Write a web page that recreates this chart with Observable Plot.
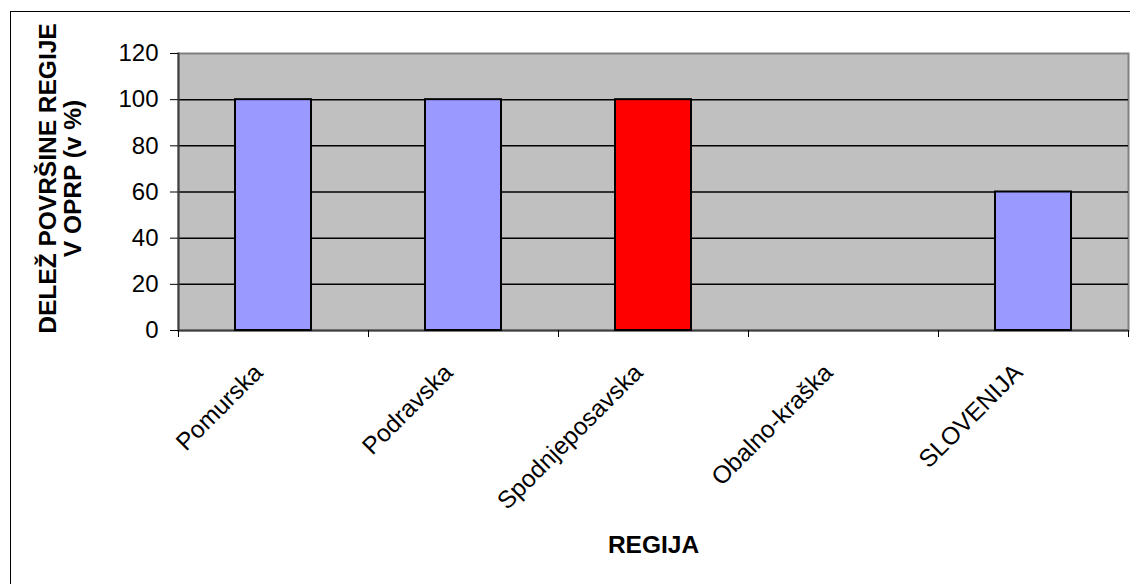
<!DOCTYPE html>
<html><head><meta charset="utf-8">
<script src="https://cdn.jsdelivr.net/npm/d3@7"></script>
<script src="https://cdn.jsdelivr.net/npm/@observablehq/plot@0.6"></script>
<style>
body{margin:0;background:#fff;overflow:hidden;}
#wrap{position:relative;width:1130px;height:584px;overflow:hidden;background:#fff}
#border{position:absolute;left:10px;top:11px;width:1200px;height:700px;border:1.5px solid #000;box-sizing:border-box}
#chart{position:absolute;left:0;top:0}
</style></head><body><div id="wrap"><div id="border"></div><div id="chart"></div></div>
<script>
const regions = ["Pomurska","Podravska","Spodnjeposavska","Obalno-kraška","SLOVENIJA"];
const shares = [100,100,100,0,60];
const barColors = ["#9999FF","#9999FF","#FF0000","#9999FF","#9999FF"];
const yTicks = [0,20,40,60,80,100,120];
const gridTicks = [20,40,60,80,100];
const yLabel = "DELEŽ POVRŠINE REGIJE\nV OPRP (v %)";
const xLabel = "REGIJA";
const data = regions.map((r,i)=>({region:r, share:shares[i], color:barColors[i]}));

const W = 1130, H = 584, mL = 178, mR = 2, mT = 53, mB = 254;
const halfStep = (W - mL - mR) / regions.length / 2;

const chart = Plot.plot({
  width:W, height:H,
  marginLeft:mL, marginRight:mR, marginTop:mT, marginBottom:mB,
  style:{fontFamily:"'Liberation Sans', Arial, sans-serif", fontSize:"24px", color:"#000", background:"transparent", overflow:"visible"},
  x:{domain:regions, paddingInner:0.6, paddingOuter:0.3},
  y:{domain:[0,120]},
  marks:[
    Plot.frame({fill:"#C0C0C0", stroke:"#808080", strokeWidth:2}),
    Plot.gridY(gridTicks,{stroke:"#000", strokeOpacity:1, strokeWidth:1.5}),
    Plot.ruleY([0],{stroke:"#404040", strokeWidth:2}),
    Plot.frame({anchor:"left", stroke:"#404040", strokeWidth:2}),
    Plot.barY(data,{x:"region", y:"share", fill:"color", stroke:"#000", strokeWidth:2}),
    Plot.axisY(yTicks,{tickSize:8, tickPadding:12, fontSize:24, label:null}),
    Plot.axisX(regions,{text:null, tickSize:7, dx:-halfStep, label:null}),
    Plot.axisX([regions[regions.length-1]],{text:null, tickSize:7, dx:halfStep, label:null}),
    Plot.axisX(regions,{tickSize:0, tickRotate:-45, tickPadding:38, dx:-15, fontSize:24.5, label:null}),
    Plot.text([yLabel],{text:d=>d, frameAnchor:"left", textAnchor:"middle", rotate:-90, dx:-118, dy:-13.5, fontWeight:"bold", fontSize:24.5, lineHeight:1.02}),
    Plot.text([xLabel],{text:d=>d, frameAnchor:"bottom", dy:222.5, fontWeight:"bold", fontSize:24.5})
  ]
});
document.getElementById("chart").appendChild(chart);
</script>
</body></html>
